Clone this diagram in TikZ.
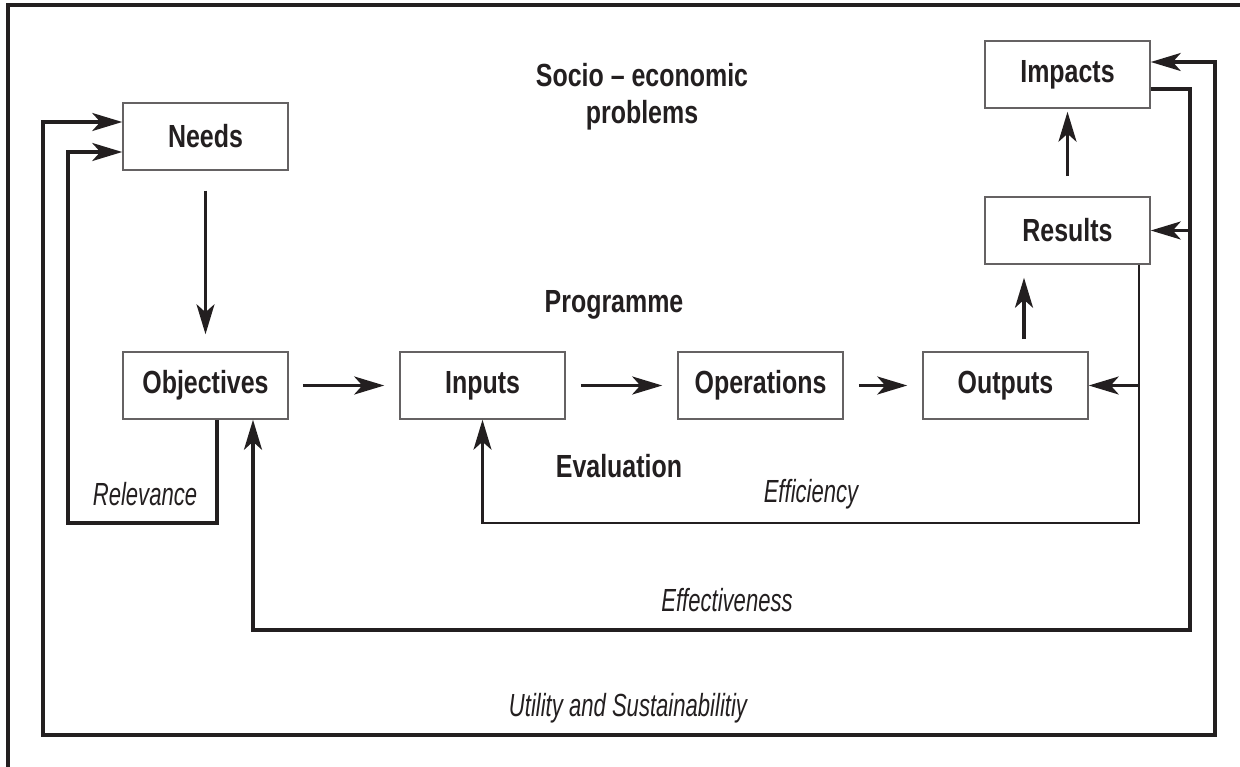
\documentclass[tikz,border=0pt]{standalone}
\usepackage{fontspec}
\setmainfont{Liberation Sans}[FakeStretch=0.78]
\newfontfamily\condit{Liberation Sans}[FakeStretch=0.69]
\usetikzlibrary{arrows.meta}
\definecolor{ink}{HTML}{231F20}
\begin{document}
\begin{tikzpicture}[x=1pt,y=-1pt,
  box/.style={draw=ink!70, line width=1.5pt, minimum width=165pt, minimum height=67pt,
    inner sep=0pt, text=ink, font=\fontsize{32}{34}\selectfont\bfseries},
  tip/.tip={Stealth[length=30pt,width=18pt,inset=8pt]},
  flow/.style={draw=ink, line width=3.2pt, -tip},
  dflow/.style={draw=ink, line width=3.2pt, tip-tip},
  head/.style={text=ink, align=center, font=\fontsize{32}{37}\selectfont\bfseries},
  crit/.style={text=ink, font=\fontsize{32}{34}\selectfont\condit\itshape}]
\useasboundingbox (0,0) rectangle (1240,767);
\draw[ink, line width=3.5pt] (8,767) -- (8,5) -- (1240,5);
% boxes
\node[box] (needs)   at (205.5,136.5) {Needs};
\node[box] (obj)     at (205.5,385.5) {Objectives};
\node[box] (inputs)  at (482.5,385.5) {Inputs};
\node[box] (ops)     at (760.5,385.5) {Operations};
\node[box] (outputs) at (1005.5,385.5) {Outputs};
\node[box] (results) at (1067.5,230.5) {Results};
\node[box] (impacts) at (1067.5,74.5) {Impacts};
% headings
\node[head] (socio) at (642,97) {Socio -- economic\\problems};
\node[head] (prog)  at (614,305) {Programme};
\node[head] (eval)  at (619,466) {Evaluation};
% criteria
\node[crit] (rel)   at (145,494) {Relevance};
\node[crit] (effic) at (811,494) {Efficiency};
\node[crit] (effec) at (727,600) {Effectiveness};
\node[crit] (util)  at (628,708) {Utility and Sustainabilitiy};
% main flow
\draw[flow, line width=2.6pt, shorten <=20pt, shorten >=17pt] (needs) -- (obj);
\draw[flow, shorten <=14pt, shorten >=15pt] (obj) -- (inputs);
\draw[flow, shorten <=15pt, shorten >=15pt] (inputs) -- (ops);
\draw[flow, shorten <=15pt, shorten >=15pt] (ops) -- (outputs);
\draw[flow, shorten <=12pt, shorten >=13pt] ([xshift=18.5pt]outputs.north) -- ([xshift=-43.5pt]results.south);
\draw[flow, shorten <=20pt, shorten >=3pt] (results) -- (impacts);
% feedback loops
\coordinate (relc) at (68,523);
\coordinate (effyc) at (1139,523);
\coordinate (effec) at (1190,630);
\coordinate (utilc) at (1215,735);
\coordinate (utill) at (43,122);
\draw[flow] ([xshift=11.5pt]obj.south) |- (relc) |- ([yshift=-15.5pt]needs.west);
\draw[dflow] ([yshift=12.5pt]impacts.east) -| (utilc) -| (utill) -- ([yshift=14.5pt]needs.west);
\draw[flow] ([yshift=-14.5pt]impacts.east) -| (effec) -| ([xshift=47.5pt]obj.south);
\draw[flow] (results.east -| effec) -- (results.east);
\draw[flow, line width=2.6pt] ([xshift=71.5pt]results.south) |- (effyc) -| (inputs.south);
\draw[flow, line width=2.6pt] (outputs.east -| effyc) -- (outputs.east);
\end{tikzpicture}
\end{document}
